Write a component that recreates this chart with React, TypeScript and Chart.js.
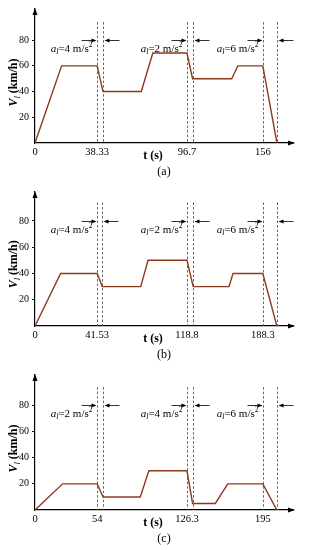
import React, { useEffect, useRef } from 'react';
import { Chart, LinearScale, registerables } from 'chart.js';

// ---------- data (time in s, speed in km/h) ----------
// Panel (a)
const timesA = [0, 16.4, 38.33, 42.1, 67.0, 74.5, 96.7, 101.1, 131.7, 136.4, 156, 167];
const speedsA = [0, 60, 60, 40, 40, 70, 70, 50, 50, 60, 60, 0];
const tickTimesA = [0, 38.33, 96.7, 156];
const dashTimesA = [38.33, 42.1, 96.7, 101.1, 156, 167];
const accelA = [4, 2, 6];
const tMaxA = 179.5;

// Panel (b)
const timesB = [0, 17.1, 41.53, 45.9, 79.0, 85.3, 118.8, 124.5, 157.3, 161.0, 188.3, 201.4];
const speedsB = [0, 40, 40, 30, 30, 50, 50, 30, 30, 40, 40, 0];
const tickTimesB = [0, 41.53, 118.8, 188.3];
const dashTimesB = [41.53, 45.9, 118.8, 124.5, 188.3, 201.4];
const accelB = [4, 2, 6];
const tMaxB = 216.5;

// Panel (c)
const timesC = [0, 24.0, 54, 58.8, 88.7, 95.6, 126.3, 131.4, 152.0, 163.2, 195, 207.7];
const speedsC = [0, 20, 20, 10, 10, 30, 30, 5, 5, 20, 20, 0];
const tickTimesC = [0, 54, 126.3, 195];
const dashTimesC = [54, 58.8, 126.3, 131.4, 195, 207.7];
const accelC = [2, 4, 6];
const tMaxC = 222.3;

const speedTicks = [20, 40, 60, 80];
const arrowSpeed = 80;
const dashTopSpeed = 94;

// ---------- styling ----------
const SERIF = '"Liberation Serif", "Times New Roman", serif';
const LINE_COLOR = '#8c3a1c';
const DASH_COLOR = '#555555';
// fractions of the x-axis length at which the labelled instants sit (schematic axis)
const AXIS_FRACTIONS = [0, 0.241, 0.589, 0.883, 1];

// Piecewise-linear (schematic) time scale, as drawn in the original figure
class WarpScale extends LinearScale {
  static id = 'warp';
  anchors(): [number[], number[]] {
    const o: any = this.options || {};
    const raw: any = (this.chart as any)?.config?.options?.scales?.[this.id] || {};
    const vals: number[] = o.anchorValues || raw.anchorValues;
    const fr: number[] = o.anchorFractions || raw.anchorFractions;
    return [vals, fr];
  }
  warpDecimal(v: number): number {
    const [vals, fr] = this.anchors();
    if (!vals || !fr) return (v - this.min) / (this.max - this.min);
    const n = vals.length;
    for (let i = 1; i < n; i++) {
      if (v <= vals[i] || i === n - 1) {
        return fr[i - 1] + ((v - vals[i - 1]) * (fr[i] - fr[i - 1])) / (vals[i] - vals[i - 1]);
      }
    }
    return 1;
  }
  getPixelForValue(value: any) {
    if (value === null || value === undefined || Number.isNaN(value)) return NaN;
    return this.getPixelForDecimal(this.warpDecimal(value));
  }
  getValueForPixel(pixel: number) {
    const d = this.getDecimalForPixel(pixel);
    const [vals, fr] = this.anchors();
    if (!vals || !fr) return this.min + d * (this.max - this.min);
    for (let i = 1; i < fr.length; i++) {
      if (d <= fr[i] || i === fr.length - 1) {
        return vals[i - 1] + ((d - fr[i - 1]) * (vals[i] - vals[i - 1])) / (fr[i] - fr[i - 1]);
      }
    }
    return this.max;
  }
}

Chart.register(...registerables, WarpScale as any);

type Panel = {
  times: number[];
  speeds: number[];
  ticks: number[];
  dashes: number[];
  accel: number[];
  tMax: number;
  yMax: number;
  label: string;
  padTop: number;
  height: number;
};

const panels: Panel[] = [
  { times: timesA, speeds: speedsA, ticks: tickTimesA, dashes: dashTimesA, accel: accelA, tMax: tMaxA, yMax: 104.2, label: '(a)', padTop: 5, height: 183 },
  { times: timesB, speeds: speedsB, ticks: tickTimesB, dashes: dashTimesB, accel: accelB, tMax: tMaxB, yMax: 102, label: '(b)', padTop: 8, height: 183 },
  { times: timesC, speeds: speedsC, ticks: tickTimesC, dashes: dashTimesC, accel: accelC, tMax: tMaxC, yMax: 103.3, label: '(c)', padTop: 6, height: 184 },
];

function drawAccelLabel(ctx: CanvasRenderingContext2D, rightX: number, baseline: number, val: number) {
  const parts = [
    { t: 'a', font: `italic 11px ${SERIF}`, dy: 0 },
    { t: 'l', font: `italic 8px ${SERIF}`, dy: 2.5 },
    { t: `=${val} m/s`, font: `11px ${SERIF}`, dy: 0 },
    { t: '2', font: `7.5px ${SERIF}`, dy: -4.5 },
  ];
  let total = 0;
  const widths = parts.map((p) => {
    ctx.font = p.font;
    const w = ctx.measureText(p.t).width;
    total += w;
    return w;
  });
  let x = rightX - total;
  ctx.fillStyle = '#000';
  ctx.textAlign = 'left';
  ctx.textBaseline = 'alphabetic';
  parts.forEach((p, i) => {
    ctx.font = p.font;
    ctx.fillText(p.t, x, baseline + p.dy);
    x += widths[i];
  });
}

function arrowHead(ctx: CanvasRenderingContext2D, tipX: number, tipY: number, dirX: number, dirY: number, len: number, half: number) {
  const bx = tipX - dirX * len;
  const by = tipY - dirY * len;
  const nx = -dirY;
  const ny = dirX;
  ctx.beginPath();
  ctx.moveTo(tipX, tipY);
  ctx.lineTo(bx + nx * half, by + ny * half);
  ctx.lineTo(bx - nx * half, by - ny * half);
  ctx.closePath();
  ctx.fill();
}

const makeDecor = (p: Panel) => ({
  id: 'decor',
  beforeDatasetsDraw(chart: any) {
    const { ctx, scales } = chart;
    const x = scales.x;
    const y = scales.y;
    const yTop = y.getPixelForValue(dashTopSpeed);
    const y0 = y.getPixelForValue(0);
    ctx.save();
    ctx.strokeStyle = DASH_COLOR;
    ctx.lineWidth = 0.9;
    ctx.setLineDash([2.5, 2]);
    p.dashes.forEach((t) => {
      const px = Math.round(x.getPixelForValue(t)) + 0.5;
      ctx.beginPath();
      ctx.moveTo(px, yTop);
      ctx.lineTo(px, y0);
      ctx.stroke();
    });
    ctx.restore();
  },
  afterDraw(chart: any) {
    const { ctx, scales, chartArea } = chart;
    const x = scales.x;
    const y = scales.y;
    ctx.save();
    ctx.fillStyle = '#000';
    ctx.strokeStyle = '#000';

    // axis arrowheads
    const y0 = y.getPixelForValue(0);
    arrowHead(ctx, chartArea.right + 2, y0, 1, 0, 7, 2.5);
    arrowHead(ctx, chartArea.left, chartArea.top - 1, 0, -1, 7, 2.5);

    // acceleration markers
    const ay = Math.round(y.getPixelForValue(arrowSpeed)) + 0.5;
    ctx.lineWidth = 0.8;
    for (let i = 0; i < p.accel.length; i++) {
      const xl = Math.round(x.getPixelForValue(p.dashes[2 * i])) + 0.5;
      const xr = Math.round(x.getPixelForValue(p.dashes[2 * i + 1])) + 0.5;
      // left arrow pointing right
      ctx.beginPath();
      ctx.moveTo(xl - 16, ay);
      ctx.lineTo(xl - 4, ay);
      ctx.stroke();
      arrowHead(ctx, xl - 1, ay, 1, 0, 5, 2);
      // right arrow pointing left
      ctx.beginPath();
      ctx.moveTo(xr + 16, ay);
      ctx.lineTo(xr + 4, ay);
      ctx.stroke();
      arrowHead(ctx, xr + 1, ay, -1, 0, 5, 2);
      drawAccelLabel(ctx, xl - 5, ay + 11, p.accel[i]);
    }

    // y-axis title (rotated)
    const cy = y.getPixelForValue(47);
    const cx = 12.5;
    const tParts = [
      { t: 'V', font: `bold italic 12px ${SERIF}`, dy: 0 },
      { t: 'l', font: `italic 8.5px ${SERIF}`, dy: 3 },
      { t: ' (km/h)', font: `bold 12px ${SERIF}`, dy: 0 },
    ];
    let total = 0;
    const ws = tParts.map((tp) => {
      ctx.font = tp.font;
      const w = ctx.measureText(tp.t).width;
      total += w;
      return w;
    });
    ctx.translate(cx, cy);
    ctx.rotate(-Math.PI / 2);
    ctx.textAlign = 'left';
    ctx.textBaseline = 'alphabetic';
    let tx = -total / 2;
    tParts.forEach((tp, i) => {
      ctx.font = tp.font;
      ctx.fillText(tp.t, tx, 4 + tp.dy);
      tx += ws[i];
    });
    ctx.setTransform(1, 0, 0, 1, 0, 0);

    // x-axis title and panel label
    ctx.textAlign = 'center';
    ctx.textBaseline = 'middle';
    ctx.font = `bold 12px ${SERIF}`;
    ctx.fillText('t (s)', 153, y0 + 13);
    ctx.font = `12px ${SERIF}`;
    ctx.fillText(p.label, 164, y0 + 29);
    ctx.restore();
  },
});

function PanelChart({ p }: { p: Panel }) {
  const ref = useRef<HTMLCanvasElement | null>(null);
  useEffect(() => {
    if (!ref.current) return;
    const chart = new Chart(ref.current, {
      type: 'line',
      data: {
        datasets: [
          {
            data: p.times.map((t, i) => ({ x: t, y: p.speeds[i] })),
            borderColor: LINE_COLOR,
            borderWidth: 1.4,
            pointRadius: 0,
            tension: 0,
            fill: false,
          },
        ],
      },
      options: {
        animation: false,
        responsive: false,
        events: [],
        layout: { padding: { top: p.padTop, right: 17, bottom: 0, left: 0 } },
        plugins: { legend: { display: false }, tooltip: { enabled: false } },
        scales: {
          x: {
            type: 'warp' as any,
            min: 0,
            max: p.tMax,
            anchorValues: [...p.ticks, p.tMax],
            anchorFractions: AXIS_FRACTIONS,
            afterBuildTicks: (s: any) => {
              s.ticks = p.ticks.map((v) => ({ value: v }));
            },
            afterFit: (s: any) => {
              s.height = 40;
            },
            grid: { display: false, drawTicks: false },
            border: { display: true, color: '#000', width: 1.2 },
            ticks: {
              autoSkip: false,
              maxRotation: 0,
              padding: 3,
              color: '#000',
              font: { family: SERIF, size: 10.5 },
              callback: (v: any) => String(v),
            },
          } as any,
          y: {
            type: 'linear',
            min: 0,
            max: p.yMax,
            afterBuildTicks: (s: any) => {
              s.ticks = speedTicks.map((v) => ({ value: v }));
            },
            afterFit: (s: any) => {
              s.width = 35;
            },
            grid: { display: true, drawOnChartArea: false, drawTicks: true, tickLength: 3, color: '#000', lineWidth: 1 },
            border: { display: true, color: '#000', width: 1.2 },
            ticks: {
              padding: 3,
              color: '#000',
              font: { family: SERIF, size: 10 },
              callback: (v: any) => String(v),
            },
          },
        },
      },
      plugins: [makeDecor(p)],
    } as any);
    return () => chart.destroy();
  }, [p]);
  return <canvas ref={ref} width={310} height={p.height} style={{ display: 'block', width: 310, height: p.height }} />;
}

export default function App() {
  return (
    <div style={{ position: 'absolute', left: 0, top: 0, width: 310, height: 550, background: '#fff' }}>
      {panels.map((p) => (
        <PanelChart key={p.label} p={p} />
      ))}
    </div>
  );
}
